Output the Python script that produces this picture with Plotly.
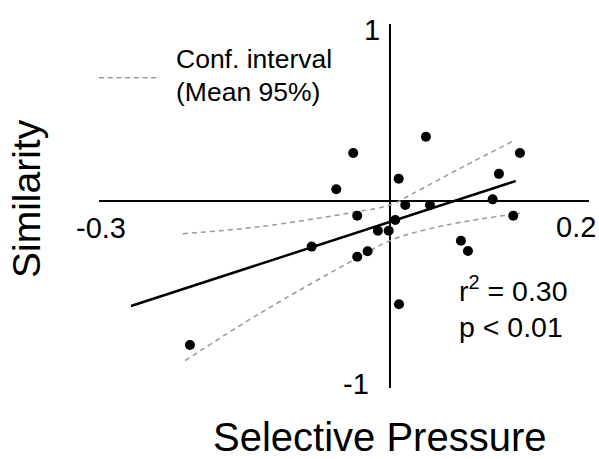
import plotly.graph_objects as go

# Scatter data (Selective Pressure vs Similarity)
sel_pressure = [0.0364, -0.0378, 0.1323, 0.1109, 0.0086, -0.0551, 0.1045, 0.0153,
                0.0405, -0.0337, 0.1255, 0.0051, -0.0126, -0.0016, 0.0721, 0.0793,
                -0.0231, -0.0337, -0.0802, 0.0089, -0.2044]
similarity = [0.365, 0.273, 0.273, 0.155, 0.128, 0.068, 0.011, -0.021,
              -0.021, -0.081, -0.081, -0.106, -0.166, -0.166, -0.223, -0.281,
              -0.282, -0.313, -0.256, -0.582, -0.812]

# Regression line
fit_x = [-0.2646, 0.128]
fit_y = [-0.5915, 0.1147]

# 95% confidence interval of the mean
ci_upper_x = [-0.2118, -0.1330, -0.0343, -0.0003, 0.0235, 0.0745, 0.1255]
ci_upper_y = [-0.183, -0.1435, -0.0588, -0.0209, 0.0452, 0.1955, 0.3407]
ci_lower_x = [-0.2095, -0.1330, -0.0343, 0.0031, 0.0576, 0.1323]
ci_lower_y = [-0.9006, -0.6328, -0.3220, -0.2147, -0.1339, -0.0678]

x_tick_labels = ["-0.3", "0.2"]
y_tick_labels = ["1", "-1"]
stats_lines = ["r<sup>2</sup> = 0.30", "p < 0.01"]
legend_lines = ["Conf. interval", "(Mean 95%)"]

FONT = "Liberation Sans, Arial, sans-serif"
GRAY = "#9a9a9a"
W, H = 599, 459

fig = go.Figure()
fig.add_trace(go.Scatter(x=ci_upper_x, y=ci_upper_y, mode="lines",
                         line=dict(color=GRAY, width=1.5, dash="5px,4px", shape="spline")))
fig.add_trace(go.Scatter(x=ci_lower_x, y=ci_lower_y, mode="lines",
                         line=dict(color=GRAY, width=1.5, dash="5px,4px", shape="spline")))
fig.add_trace(go.Scatter(x=fit_x, y=fit_y, mode="lines",
                         line=dict(color="black", width=2.5)))
fig.add_trace(go.Scatter(x=sel_pressure, y=similarity, mode="markers",
                         marker=dict(color="black", size=10)))

axis_common = dict(showgrid=False, showticklabels=False, ticks="",
                   showline=False, zeroline=True, zerolinecolor="black",
                   zerolinewidth=2)

fig.update_layout(
    width=W, height=H,
    margin=dict(l=0, r=0, t=0, b=0),
    paper_bgcolor="white", plot_bgcolor="white",
    showlegend=False,
    font=dict(family=FONT, color="black"),
    xaxis=dict(range=[-0.2969, 0.2031], domain=[0.1658, 0.9838], **axis_common),
    yaxis=dict(range=[-1.0565, 1.0], domain=[0.1540, 0.9471], **axis_common),
)


def px_note(px, py, text, size, xanchor="center", angle=0):
    fig.add_annotation(x=px / W, y=1 - py / H, xref="paper", yref="paper",
                       text=text, showarrow=False, font=dict(size=size),
                       xanchor=xanchor, yanchor="middle", textangle=angle)


# Axis end labels
px_note(101, 228, x_tick_labels[0], 29)
px_note(576, 227, x_tick_labels[1], 29)
px_note(372, 30, y_tick_labels[0], 29)
px_note(356, 384, y_tick_labels[1], 29)

# Stats text
px_note(457, 289, stats_lines[0], 28.5, xanchor="left")
px_note(457, 327, stats_lines[1], 28.5, xanchor="left")

# Legend: dashed sample + text
fig.add_shape(type="line", xref="paper", yref="paper",
              x0=99 / W, x1=160 / W, y0=1 - 77.7 / H, y1=1 - 77.7 / H,
              line=dict(color=GRAY, width=1.5, dash="5px,3.7px"))
px_note(174, 59, legend_lines[0], 26.5, xanchor="left")
px_note(174, 92, legend_lines[1], 26.5, xanchor="left")

# Axis titles
px_note(379, 437, "Selective Pressure", 40)
px_note(27, 199, "Similarity", 39, angle=-90)

fig.write_html("out.html",
               config={"displayModeBar": False},
               post_script="document.body.style.margin='0';document.body.style.overflow='hidden';")
